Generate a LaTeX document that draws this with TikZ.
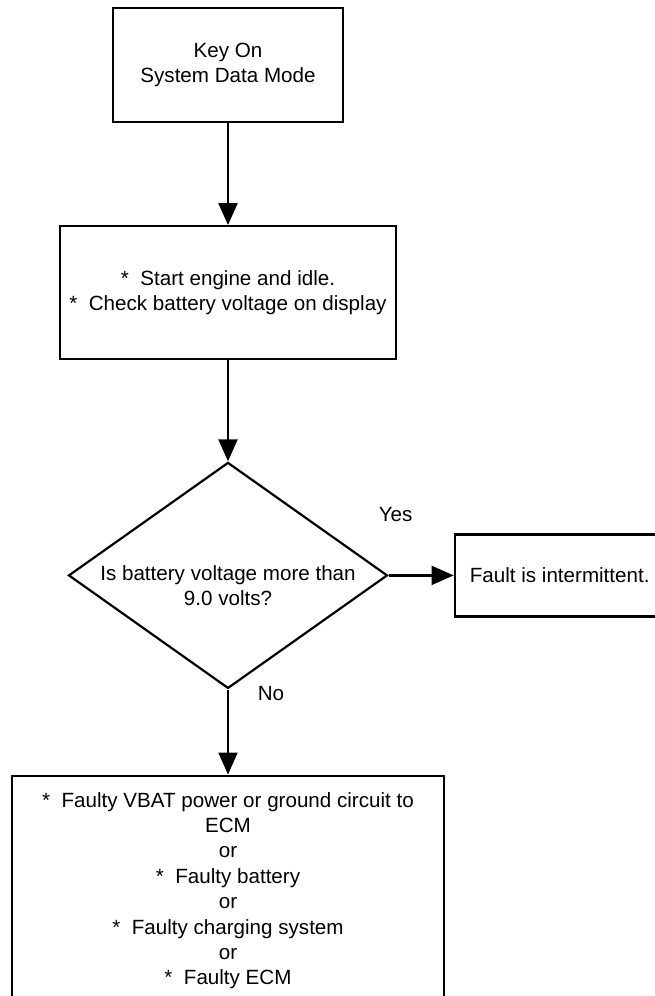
\documentclass[tikz,border=0pt]{standalone}
\usepackage{fontspec}
\setmainfont{Liberation Sans}
\usetikzlibrary{positioning, arrows.meta, shapes.geometric}

\begin{document}
\begin{tikzpicture}[
        x=1pt, y=1pt,
        font=\fontsize{20.6}{25.4}\selectfont,
        stepbox/.style={rectangle, draw=black, line width=2.2pt, fill=white, align=center, inner sep=0pt},
        decision/.style={diamond, draw=black, line width=2.2pt, inner sep=0pt, minimum width=319pt, minimum height=226pt},
        arr/.style={-{Triangle[length=22pt, width=19pt]}, line width=2.2pt},
        lbl/.style={inner sep=0pt},
    ]
        % Page frame
        \useasboundingbox (0,0) rectangle (655,-996);
        \clip (0,0) rectangle (655,-996);

        % Steps
        \node[stepbox, minimum width=230pt, minimum height=114pt] (keyon) at (228,-65) {Key On\\System Data Mode};
        \node[stepbox, minimum width=336pt, minimum height=133pt, below=102pt of keyon] (start) {*~~Start engine and idle.\\*~~Check battery voltage on display};
        \node[decision, below=101pt of start] (check) {};
        \node[lbl, align=center] (checktext) at ([yshift=-10pt]check.center) {Is battery voltage more than\\9.0 volts?};

        % Outcomes
        \node[stepbox, minimum width=210pt, minimum height=82pt, right=65pt of check] (fault) {Fault is intermittent.};
        \node[stepbox, minimum width=432pt, minimum height=230pt, below=85pt of check] (causes) {*~~Faulty VBAT power or ground circuit to\\ECM\\or\\*~~Faulty battery\\or\\*~~Faulty charging system\\or\\*~~Faulty ECM};

        % Arrows
        \draw[arr] (keyon) -- (start);
        \draw[arr] (start) -- (check);
        \draw[arr] (check) -- (fault);
        \draw[arr] (check) -- (causes);

        % Labels
        \node[lbl] (yes) at ([xshift=7pt, yshift=61pt]check.east) {Yes};
        \node[lbl] (no) at ([xshift=43pt, yshift=-4pt]check.south) {No};
\end{tikzpicture}
\end{document}
